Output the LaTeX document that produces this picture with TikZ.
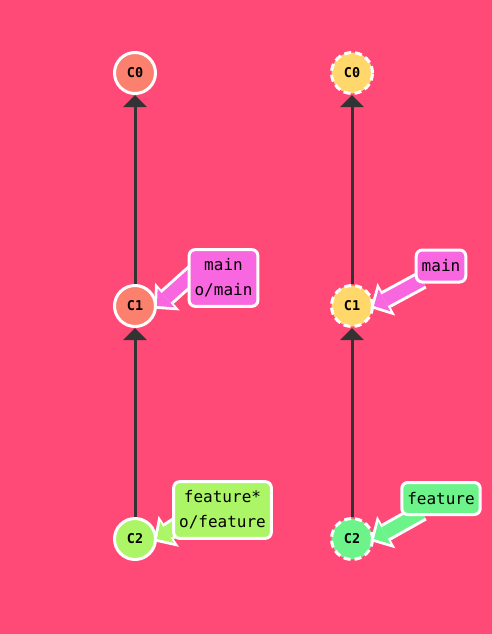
\documentclass[tikz,border=0pt]{standalone}
\usepackage{fontspec}
\setmonofont{DejaVu Sans Mono}
\usetikzlibrary{arrows.meta}
\definecolor{bgpink}{HTML}{FF4A78}
\definecolor{salmon}{HTML}{FB806E}
\definecolor{gold}{HTML}{FFD76B}
\definecolor{lime}{HTML}{ABF566}
\definecolor{mint}{HTML}{6CF48B}
\definecolor{magenta}{HTML}{F866E0}
\definecolor{edge}{HTML}{333333}
\tikzstyle{commit} = [circle, draw=white, line width=3pt, minimum size=41pt, inner sep=0pt, text=black, font=\ttfamily\bfseries\fontsize{13.5}{15}\selectfont]
\tikzstyle{ghost} = [commit, dash pattern=on 7pt off 4pt]
\tikzstyle{branch} = [rectangle, rounded corners=6pt, draw=white, line width=3pt, inner xsep=5.5pt, inner ysep=9pt, minimum height=32pt, align=center, text=black, font=\ttfamily\fontsize{16}{25}\selectfont]
\tikzstyle{arrow} = [line width=3pt, draw=edge, -{Triangle[length=12pt,width=23pt]}]
\tikzstyle{halo} = [line width=19pt, draw=white, -{Triangle[length=18pt,width=37pt,line width=0pt]}, shorten >=-4pt]
\tikzstyle{pointer} = [line width=13pt, -{Triangle[length=12pt,width=25pt,line width=0pt]}, shorten >=0pt]

\begin{document}
\begin{tikzpicture}[x=1pt, y=-1pt, node distance=233pt]
  \fill [bgpink] (0,0) rectangle (492,634);
  \useasboundingbox (0,0) rectangle (492,634);

  % local repo
  \node (c0) [commit, fill=salmon] at (135,73) {C0};
  \node (c1) [commit, fill=salmon, below of=c0] {C1};
  \node (c2) [commit, fill=lime, below of=c1] {C2};

  % remote repo
  \node (r0) [ghost, fill=gold] at (352,73) {C0};
  \node (r1) [ghost, fill=gold, below of=r0] {C1};
  \node (r2) [ghost, fill=mint, below of=r1] {C2};

  \draw [arrow] (c1) -- (c0);
  \draw [arrow] (c2) -- (c1);
  \draw [arrow] (r1) -- (r0);
  \draw [arrow] (r2) -- (r1);

  % branch pointers
  \coordinate (mainl) at (195,272);
  \coordinate (featl) at (192,516);
  \coordinate (mainr) at (422,280);
  \coordinate (featr) at (422,512);
  \draw [halo] (mainl) -- (c1.east);
  \draw [pointer, magenta] (mainl) -- (c1.east);
  \draw [halo] (featl) -- (c2.east);
  \draw [pointer, lime] (featl) -- (c2.east);
  \draw [halo] (mainr) -- (r1.east);
  \draw [pointer, magenta] (mainr) -- (r1.east);
  \draw [halo] (featr) -- (r2.east);
  \draw [pointer, mint] (featr) -- (r2.east);

  \node (bmainl) [branch, fill=magenta] at (223.5,278) {main\\o/main};
  \node (bfeatl) [branch, fill=lime] at (222.5,510) {feature*\\o/feature};
  \node (bmainr) [branch, fill=magenta] at (441,266) {main};
  \node (bfeatr) [branch, fill=mint] at (441,498.5) {feature};
\end{tikzpicture}
\end{document}
